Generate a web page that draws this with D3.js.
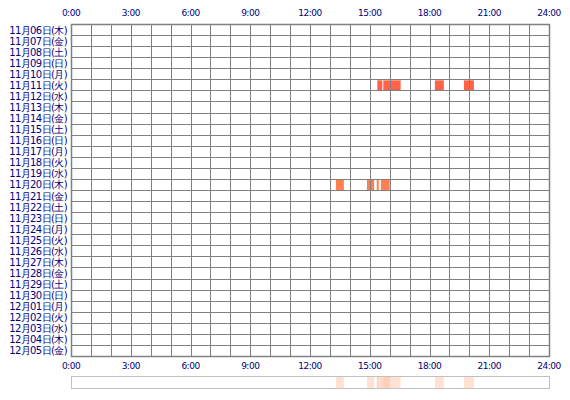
<!DOCTYPE html>
<html><head><meta charset="utf-8">
<script src="https://cdn.jsdelivr.net/npm/d3@7"></script>
<style>body{margin:0;background:#fff}</style></head>
<body><svg id="c" width="570" height="400"></svg>
<script>
const days = ["11月06日(木)","11月07日(金)","11月08日(土)","11月09日(日)","11月10日(月)","11月11日(火)","11月12日(水)","11月13日(木)","11月14日(金)","11月15日(土)","11月16日(日)","11月17日(月)","11月18日(火)","11月19日(水)","11月20日(木)","11月21日(金)","11月22日(土)","11月23日(日)","11月24日(月)","11月25日(火)","11月26日(水)","11月27日(木)","11月28日(金)","11月29日(土)","11月30日(日)","12月01日(月)","12月02日(火)","12月03日(水)","12月04日(木)","12月05日(金)"];
const tickLabels = ["0:00","3:00","6:00","9:00","12:00","15:00","18:00","21:00","24:00"];
const eventDay = [5,5,5,5,14,14,14,14];
const eventStart = [15.38,15.68,18.27,19.73,13.30,14.86,15.35,15.56];
const eventEnd =   [15.63,16.55,18.72,20.23,13.70,15.22,15.45,16.00];
const eventColor = ["#ff6347","#ff6347","#ff6347","#ff6347","#ff7f50","#ff7f50","#ff7f50","#ff7f50"];

const svg = d3.select("#c");
const x = d3.scaleLinear().domain([0,24]).range([71,549]);
const y = d3.scaleBand().domain(days).range([24,356]);
const font = "'DejaVu Sans', sans-serif";
const navy = "#000080";

svg.selectAll(".ev").data(eventDay).join("rect")
 .attr("x",(d,i)=>x(eventStart[i])).attr("width",(d,i)=>x(eventEnd[i])-x(eventStart[i]))
 .attr("y",d=>y(days[d])+1).attr("height",y.bandwidth()-1).attr("fill",(d,i)=>eventColor[i]);

const grid = svg.append("g").attr("stroke","#808080").attr("stroke-width",1).attr("fill","none");
grid.selectAll(".v").data(d3.range(25)).join("line")
 .attr("x1",d=>Math.round(x(d))+0.5).attr("x2",d=>Math.round(x(d))+0.5).attr("y1",24).attr("y2",356);
grid.selectAll(".h").data(d3.range(31)).join("line")
 .attr("x1",71).attr("x2",550).attr("y1",d=>Math.round(24+d*y.step())+0.5).attr("y2",d=>Math.round(24+d*y.step())+0.5);
svg.append("rect").attr("x",71.5).attr("y",24.5).attr("width",478).attr("height",332).attr("fill","none").attr("stroke","#808080").attr("stroke-width",1.5);

svg.selectAll(".dl").data(days).join("text")
 .attr("x",67).attr("y",d=>y(d)+y.bandwidth()/2+4).attr("text-anchor","end")
 .attr("font-family",font).attr("font-size",10).attr("fill",navy).attr("letter-spacing","-0.6").text(d=>d);

const tv = tickLabels.map((t,i)=>i*3);
[16,369].forEach(yy=>{
 svg.selectAll(null).data(tv).join("text").attr("x",d=>x(d)).attr("y",yy).attr("text-anchor","middle")
  .attr("font-family",font).attr("font-size",9).attr("fill",navy).attr("letter-spacing","-0.5").text((d,i)=>tickLabels[i]);
});

svg.selectAll(".sm").data(eventDay).join("rect")
 .attr("x",(d,i)=>x(eventStart[i])).attr("width",(d,i)=>x(eventEnd[i])-x(eventStart[i]))
 .attr("y",377).attr("height",11).attr("fill","#ffa070").attr("opacity",0.3);
svg.append("rect").attr("x",71.5).attr("y",376.5).attr("width",478).attr("height",12).attr("fill","none").attr("stroke","#c0c0c0");
</script></body></html>
